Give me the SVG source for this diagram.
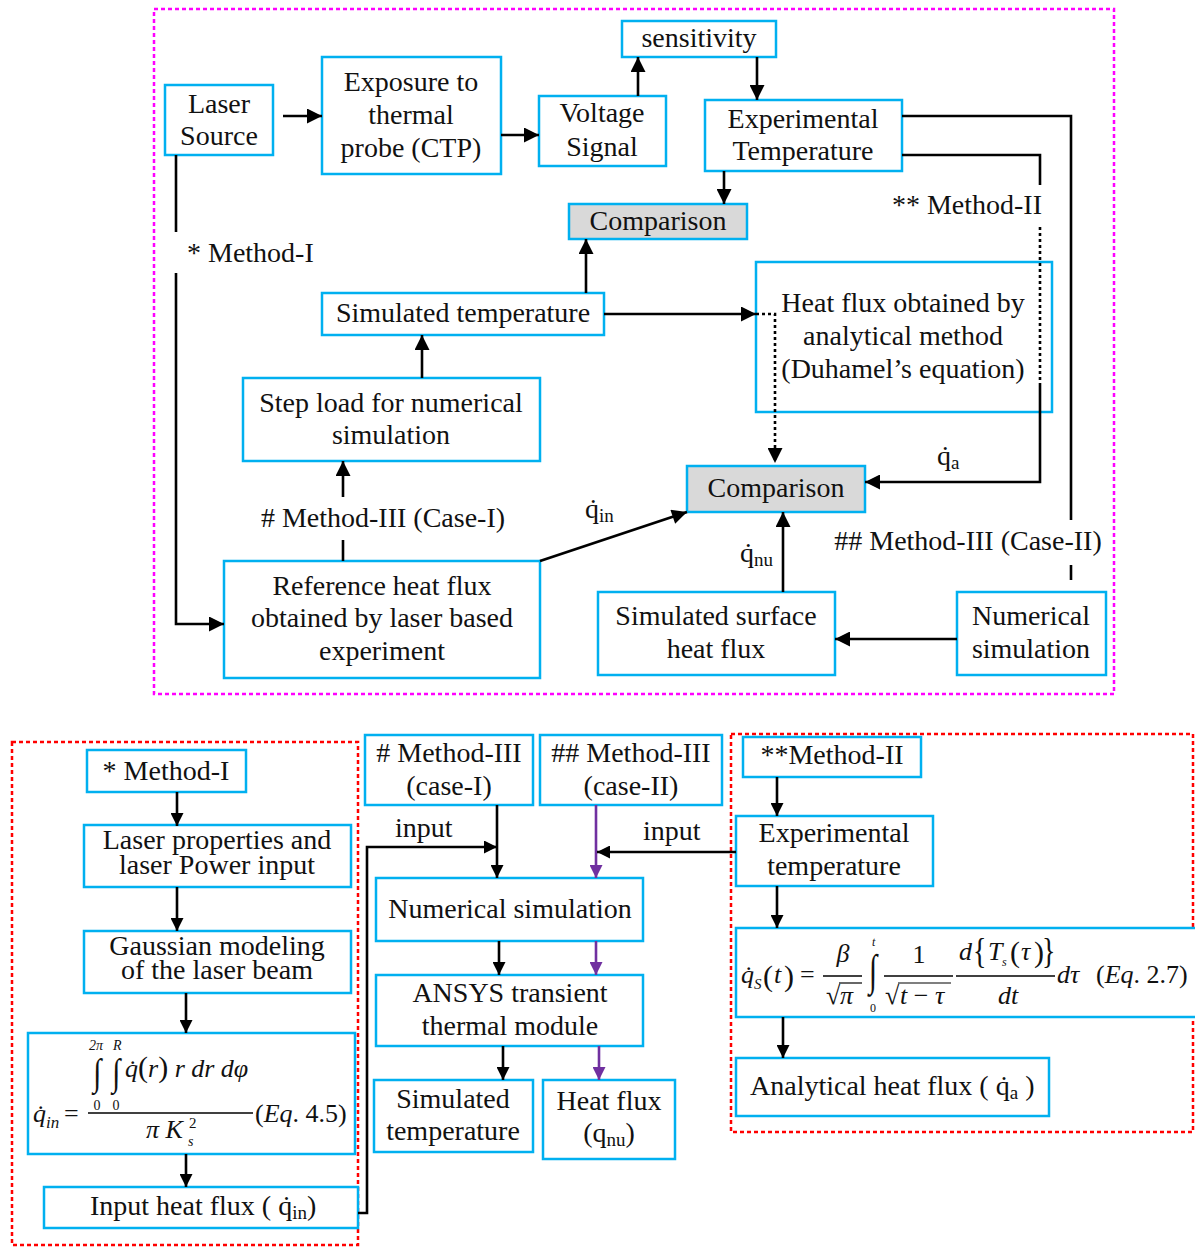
<svg xmlns="http://www.w3.org/2000/svg" width="1195" height="1247" viewBox="0 0 1195 1247">
  <style>
    .box { fill: #ffffff; stroke: #00b0f0; stroke-width: 2.5; }
    .grey { fill: #d9d9d9; stroke: #00b0f0; stroke-width: 2.5; }
    .t { font-family: "Liberation Serif", "Times New Roman", serif; font-size: 28px; fill: #111; text-anchor: middle; }
    .l { font-family: "Liberation Serif", "Times New Roman", serif; font-size: 28px; fill: #111; }
    .m { font-family: "Liberation Serif", "Times New Roman", serif; font-style: italic; fill: #111; }
    .u { font-style: normal; }
    .ln { fill: none; stroke: #000; stroke-width: 2.6; }
    .dot { fill: none; stroke: #000; stroke-width: 2.6; stroke-dasharray: 3 3; }
    .pl { fill: none; stroke: #7030a0; stroke-width: 2.6; }
    .arr { marker-end: url(#ah); }
    .arrs { marker-end: url(#ahs); }
    .arrp { marker-end: url(#ahp); }
    .frame-m { fill: none; stroke: #ff00ff; stroke-width: 2.5; stroke-dasharray: 4 3; }
    .frame-r { fill: none; stroke: #ff0000; stroke-width: 2.5; stroke-dasharray: 4 3; }
    .bar { stroke: #000; stroke-width: 1.4; }
  </style>
  <defs>
    <marker id="ah" viewBox="0 0 10 10" refX="10" refY="5" markerWidth="21" markerHeight="15" markerUnits="userSpaceOnUse" orient="auto">
      <path d="M0,0 L10,5 L0,10 z" fill="#000"/>
    </marker>
    <marker id="ahs" viewBox="0 0 10 10" refX="10" refY="5" markerWidth="17" markerHeight="13" markerUnits="userSpaceOnUse" orient="auto">
      <path d="M0,0 L10,5 L0,10 z" fill="#000"/>
    </marker>
    <marker id="ahp" viewBox="0 0 10 10" refX="10" refY="5" markerWidth="17" markerHeight="13" markerUnits="userSpaceOnUse" orient="auto">
      <path d="M0,0 L10,5 L0,10 z" fill="#7030a0"/>
    </marker>
  </defs>

  <rect width="1195" height="1247" fill="#ffffff"/>

  <!-- group frames -->
  <rect class="frame-m" x="154" y="9" width="960" height="685"/>
  <rect class="frame-r" x="12" y="742" width="346" height="503"/>
  <rect class="frame-r" x="731" y="734" width="462" height="398"/>

  <!-- upper flowchart -->
  <g id="laser-source">
    <rect class="box" x="165" y="85" width="108" height="70"/>
    <text class="t" x="219" y="113">Laser</text>
    <text class="t" x="219" y="145">Source</text>
  </g>
  <g id="exposure">
    <rect class="box" x="322" y="57" width="179" height="117"/>
    <text class="t" x="411" y="91">Exposure to</text>
    <text class="t" x="411" y="124">thermal</text>
    <text class="t" x="411" y="157">probe (CTP)</text>
  </g>
  <g id="voltage-signal">
    <rect class="box" x="539" y="96" width="127" height="70"/>
    <text class="t" x="602" y="122">Voltage</text>
    <text class="t" x="602" y="156">Signal</text>
  </g>
  <g id="sensitivity">
    <rect class="box" x="622" y="21" width="154" height="36"/>
    <text class="t" x="699" y="47">sensitivity</text>
  </g>
  <g id="experimental-temperature">
    <rect class="box" x="705" y="100" width="197" height="71"/>
    <text class="t" x="803" y="128">Experimental</text>
    <text class="t" x="803" y="160">Temperature</text>
  </g>
  <g id="comparison-1">
    <rect class="grey" x="569" y="204" width="178" height="35"/>
    <text class="t" x="658" y="230">Comparison</text>
  </g>
  <g id="simulated-temperature">
    <rect class="box" x="322" y="293" width="282" height="42"/>
    <text class="t" x="463" y="322">Simulated temperature</text>
  </g>
  <g id="heat-flux-analytical">
    <rect class="box" x="756" y="262" width="296" height="150"/>
    <text class="t" x="903" y="312">Heat flux obtained by</text>
    <text class="t" x="903" y="345">analytical method</text>
    <text class="t" x="903" y="378">(Duhamel’s equation)</text>
  </g>
  <g id="step-load">
    <rect class="box" x="243" y="378" width="297" height="83"/>
    <text class="t" x="391" y="412">Step load for numerical</text>
    <text class="t" x="391" y="444">simulation</text>
  </g>
  <g id="comparison-2">
    <rect class="grey" x="687" y="466" width="178" height="46"/>
    <text class="t" x="776" y="497">Comparison</text>
  </g>
  <g id="reference-heat-flux">
    <rect class="box" x="224" y="561" width="316" height="117"/>
    <text class="t" x="382" y="595">Reference heat flux</text>
    <text class="t" x="382" y="627">obtained by laser based</text>
    <text class="t" x="382" y="660">experiment</text>
  </g>
  <g id="simulated-surface-heat-flux">
    <rect class="box" x="598" y="592" width="237" height="83"/>
    <text class="t" x="716" y="625">Simulated surface</text>
    <text class="t" x="716" y="658">heat flux</text>
  </g>
  <g id="numerical-simulation-top">
    <rect class="box" x="957" y="592" width="149" height="83"/>
    <text class="t" x="1031" y="625">Numerical</text>
    <text class="t" x="1031" y="658">simulation</text>
  </g>

  <!-- Method-I column -->
  <g id="method-1">
    <rect class="box" x="87" y="750" width="159" height="42"/>
    <text class="t" x="166" y="780">* Method-I</text>
  </g>
  <g id="laser-properties">
    <rect class="box" x="84" y="825" width="267" height="62"/>
    <text class="t" x="217" y="849">Laser properties and</text>
    <text class="t" x="217" y="874">laser Power input</text>
  </g>
  <g id="gaussian-modeling">
    <rect class="box" x="84" y="931" width="267" height="62"/>
    <text class="t" x="217" y="955">Gaussian modeling</text>
    <text class="t" x="217" y="979">of the laser beam</text>
  </g>
  <g id="eq-4-5">
    <rect class="box" x="28" y="1033" width="327" height="121"/>
    <text class="m" x="33" y="1122" font-size="26">q̇<tspan font-size="17" dy="6">in</tspan></text>
    <text class="m u" x="64" y="1122" font-size="26">=</text>
    <line class="bar" x1="88" y1="1113" x2="253" y2="1113"/>
    <text class="m" x="89" y="1050" font-size="14">2π</text>
    <text class="m" x="113" y="1050" font-size="14">R</text>
    <text class="m u" transform="translate(97,1085) scale(1,1.26)" font-size="30" text-anchor="middle">∫</text>
    <text class="m u" transform="translate(116,1085) scale(1,1.26)" font-size="30" text-anchor="middle">∫</text>
    <text class="m u" x="97" y="1110" font-size="14" text-anchor="middle">0</text>
    <text class="m u" x="116" y="1110" font-size="14" text-anchor="middle">0</text>
    <text class="m" x="125" y="1077" font-size="26">q̇<tspan class="u" font-size="30">(</tspan>r<tspan class="u" font-size="30">)</tspan> r dr dφ</text>
    <text class="m" x="146" y="1138" font-size="26">π K</text>
    <text class="m u" x="189" y="1128" font-size="15">2</text>
    <text class="m" x="188" y="1146" font-size="14">s</text>
    <text class="m" x="255" y="1122" font-size="26"><tspan class="u">(</tspan>Eq<tspan class="u">. 4.5)</tspan></text>
  </g>
  <g id="input-heat-flux">
    <rect class="box" x="44" y="1187" width="314" height="41"/>
    <text class="l" x="90" y="1215">Input heat flux ( q̇<tspan font-size="19" dy="4">in</tspan><tspan dy="-4">)</tspan></text>
  </g>

  <!-- Method-III column -->
  <g id="method-3-case-1">
    <rect class="box" x="365" y="735" width="168" height="70"/>
    <text class="t" x="449" y="762"># Method-III</text>
    <text class="t" x="449" y="795">(case-I)</text>
  </g>
  <g id="method-3-case-2">
    <rect class="box" x="540" y="735" width="182" height="70"/>
    <text class="t" x="631" y="762">## Method-III</text>
    <text class="t" x="631" y="795">(case-II)</text>
  </g>
  <g id="numerical-simulation">
    <rect class="box" x="376" y="878" width="267" height="63"/>
    <text class="t" x="510" y="918">Numerical simulation</text>
  </g>
  <g id="ansys-module">
    <rect class="box" x="376" y="975" width="267" height="71"/>
    <text class="t" x="510" y="1002">ANSYS transient</text>
    <text class="t" x="510" y="1035">thermal module</text>
  </g>
  <g id="simulated-temperature-out">
    <rect class="box" x="374" y="1080" width="159" height="72"/>
    <text class="t" x="453" y="1108">Simulated</text>
    <text class="t" x="453" y="1140">temperature</text>
  </g>
  <g id="heat-flux-out">
    <rect class="box" x="543" y="1080" width="132" height="79"/>
    <text class="t" x="609" y="1110">Heat flux</text>
    <text class="t" x="609" y="1142">(q<tspan font-size="19" dy="4">nu</tspan><tspan dy="-4">)</tspan></text>
  </g>

  <!-- Method-II column -->
  <g id="method-2">
    <rect class="box" x="743" y="737" width="178" height="40"/>
    <text class="t" x="832" y="764">**Method-II</text>
  </g>
  <g id="experimental-temperature-2">
    <rect class="box" x="736" y="816" width="197" height="70"/>
    <text class="t" x="834" y="842">Experimental</text>
    <text class="t" x="834" y="875">temperature</text>
  </g>
  <g id="eq-2-7">
    <rect class="box" x="736" y="928" width="461" height="89"/>
    <text class="m" x="741" y="983" font-size="26">q̇<tspan font-size="15" dy="6">S</tspan></text>
    <text class="m u" x="763" y="986" font-size="30">(</text>
    <text class="m" x="774" y="983" font-size="26">t</text>
    <text class="m u" x="784" y="986" font-size="30">)</text>
    <text class="m u" x="800" y="983" font-size="26">=</text>
    <line class="bar" x1="823" y1="976" x2="862" y2="976"/>
    <text class="m" x="843" y="962" font-size="26" text-anchor="middle">β</text>
    <text class="m u" x="826" y="1004" font-size="26">√</text>
    <line x1="839" y1="983" x2="862" y2="983" stroke="#000" stroke-width="1.2"/>
    <text class="m" x="840" y="1004" font-size="26">π</text>
    <text class="m u" transform="translate(873,985) scale(1,1.47)" font-size="30" text-anchor="middle">∫</text>
    <text class="m" x="872" y="946" font-size="12">t</text>
    <text class="m u" x="873" y="1012" font-size="12" text-anchor="middle">0</text>
    <line class="bar" x1="884" y1="976" x2="953" y2="976"/>
    <text class="m u" x="919" y="963" font-size="26" text-anchor="middle">1</text>
    <text class="m u" x="885" y="1004" font-size="26">√</text>
    <line x1="898" y1="983" x2="951" y2="983" stroke="#000" stroke-width="1.2"/>
    <text class="m" x="900" y="1004" font-size="26">t <tspan class="u">−</tspan> τ</text>
    <line class="bar" x1="956" y1="976" x2="1055" y2="976"/>
    <text class="m" x="959" y="960" font-size="26">d</text>
    <text class="m u" transform="translate(973,963) scale(1,1.3)" font-size="28">{</text>
    <text class="m" x="988" y="960" font-size="26">T</text>
    <text class="m" x="1002" y="966" font-size="12">s</text>
    <text class="m u" x="1010" y="962" font-size="30">(</text>
    <text class="m" x="1021" y="960" font-size="26">τ</text>
    <text class="m u" x="1034" y="962" font-size="30">)</text>
    <text class="m u" transform="translate(1042,963) scale(1,1.3)" font-size="28">}</text>
    <text class="m" x="1008" y="1004" font-size="26" text-anchor="middle">dt</text>
    <text class="m" x="1057" y="983" font-size="26">dτ</text>
    <text class="m" x="1096" y="983" font-size="26"><tspan class="u">(</tspan>Eq<tspan class="u">. 2.7)</tspan></text>
  </g>
  <g id="analytical-heat-flux">
    <rect class="box" x="736" y="1058" width="313" height="58"/>
    <text class="l" x="750" y="1095">Analytical heat flux ( q̇<tspan font-size="19" dy="4">a</tspan><tspan dy="-4"> )</tspan></text>
  </g>

  <!-- connectors -->
  <g id="connectors">
    <path class="ln arr" d="M283,116 H322"/>
    <path class="ln arr" d="M501,135 H539"/>
    <path class="ln arr" d="M638,96 V57"/>
    <path class="ln arr" d="M757,57 V100"/>
    <path class="ln arr" d="M724,171 V204"/>
    <path class="ln" d="M902,116 H1071 V520"/>
    <path class="ln" d="M1071,565 V580"/>
    <path class="ln" d="M902,155 H1040 V185"/>
    <path class="dot" d="M1040,227 V383"/>
    <path class="ln arr" d="M1040,383 V482 H865"/>
    <path class="ln arr" d="M586,293 V239"/>
    <path class="ln arr" d="M604,314 H756"/>
    <path class="dot arr" d="M756,314 H775 V463"/>
    <path class="ln arr" d="M422,378 V335"/>
    <path class="ln" d="M343,561 V540"/>
    <path class="ln arr" d="M343,497 V461"/>
    <path class="ln" d="M176,155 V232"/>
    <path class="ln arr" d="M176,273 V624 H224"/>
    <path class="ln arr" d="M540,561 L687,512"/>
    <path class="ln arr" d="M783,592 V512"/>
    <path class="ln arr" d="M957,639 H835"/>

    <path class="ln arrs" d="M177,792 V826"/>
    <path class="ln arrs" d="M177,887 V931"/>
    <path class="ln arrs" d="M186,993 V1033"/>
    <path class="ln arrs" d="M186,1154 V1187"/>
    <path class="ln arrs" d="M358,1213 H367 V847 H497"/>
    <path class="ln arrs" d="M497,805 V878"/>
    <path class="pl arrp" d="M596,805 V878"/>
    <path class="ln arrs" d="M736,852 H597"/>
    <path class="ln arrs" d="M499,941 V975"/>
    <path class="pl arrp" d="M596,941 V975"/>
    <path class="ln arrs" d="M503,1046 V1080"/>
    <path class="pl arrp" d="M599,1046 V1080"/>
    <path class="ln arrs" d="M777,777 V816"/>
    <path class="ln arrs" d="M777,886 V928"/>
    <path class="ln arrs" d="M783,1017 V1058"/>
  </g>

  <!-- connector labels -->
  <g id="labels">
    <text class="l" x="187" y="262">* Method-I</text>
    <text class="l" x="1042" y="214" text-anchor="end">** Method-II</text>
    <text class="t" x="383" y="527"># Method-III (Case-I)</text>
    <text class="t" x="968" y="550">## Method-III (Case-II)</text>
    <text class="l" x="585" y="518">q̇<tspan font-size="19" dy="4">in</tspan></text>
    <text class="l" x="937" y="465">q̇<tspan font-size="19" dy="4">a</tspan></text>
    <text class="l" x="740" y="562">q̇<tspan font-size="19" dy="4">nu</tspan></text>
    <text class="l" x="395" y="837">input</text>
    <text class="l" x="643" y="840">input</text>
  </g>
</svg>
